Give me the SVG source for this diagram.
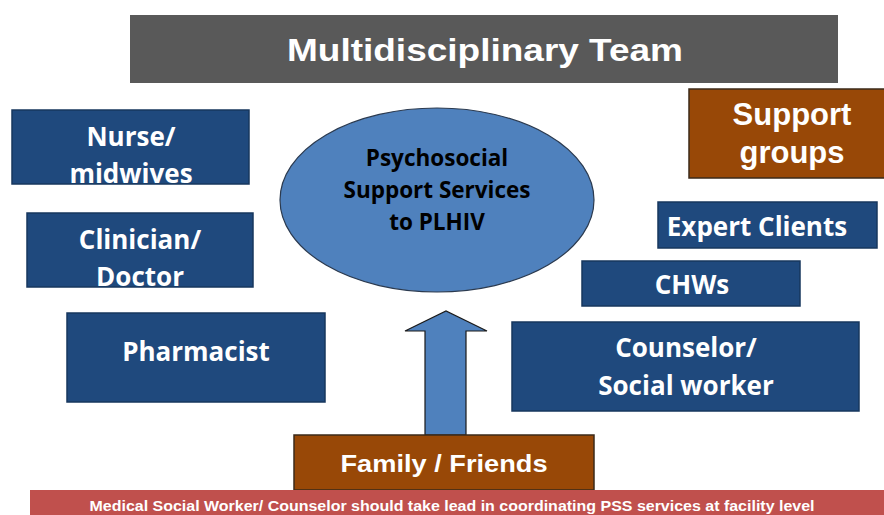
<svg xmlns="http://www.w3.org/2000/svg" width="884" height="515" viewBox="0 0 884 515">
<style>
.box{fill:#1F497D;stroke:#17375E;stroke-width:1.5}
.brown{fill:#984807;stroke:#3b2a1a;stroke-width:1.5}
.cal{font-family:"Open Sans",Lato,"Liberation Sans",sans-serif;font-weight:700;fill:#fff;text-anchor:middle;font-size:26px}
.ari{font-family:"Liberation Sans",Arial,sans-serif;font-weight:700;fill:#fff;text-anchor:middle}
.blk{font-family:"Open Sans",Lato,"Liberation Sans",sans-serif;font-weight:700;fill:#000;text-anchor:middle;font-size:22.5px}
</style>
<rect width="884" height="515" fill="#fff"/>
<g id="title">
<rect x="130" y="15" width="708" height="68" fill="#595959"/>
<text class="ari" x="485" y="61" font-size="32" textLength="396" lengthAdjust="spacingAndGlyphs">Multidisciplinary Team</text>
</g>
<g id="nurse">
<rect class="box" x="12" y="110" width="237" height="74"/>
<text class="cal" x="131" y="146">Nurse/</text>
<text class="cal" x="131" y="183">midwives</text>
</g>
<g id="clinician">
<rect class="box" x="27" y="213" width="226" height="74"/>
<text class="cal" x="140" y="249">Clinician/</text>
<text class="cal" x="140" y="286">Doctor</text>
</g>
<g id="pharmacist">
<rect class="box" x="67" y="313" width="258" height="89"/>
<text class="cal" x="196" y="361">Pharmacist</text>
</g>
<g id="pss">
<ellipse cx="437" cy="200" rx="157" ry="92" fill="#4F81BD" stroke="#2b3a4f" stroke-width="1.2"/>
<text class="blk" x="437" y="166">Psychosocial</text>
<text class="blk" x="437" y="198">Support Services</text>
<text class="blk" x="437" y="230">to PLHIV</text>
</g>
<g id="support-groups">
<rect class="brown" x="689" y="89" width="200" height="89"/>
<text class="ari" x="792" y="125" font-size="31">Support</text>
<text class="ari" x="792" y="163" font-size="31">groups</text>
</g>
<g id="expert-clients">
<rect class="box" x="658" y="202" width="219" height="46"/>
<text class="cal" x="757" y="236">Expert Clients</text>
</g>
<g id="chws">
<rect class="box" x="582" y="261" width="218" height="45"/>
<text class="cal" x="692" y="294">CHWs</text>
</g>
<g id="counselor">
<rect class="box" x="512" y="322" width="347" height="89"/>
<text class="cal" x="686" y="357">Counselor/</text>
<text class="cal" x="686" y="395">Social worker</text>
</g>
<g id="connectors">
<polygon points="425,435 425,331 405,331 446,311 487,331 466,331 466,435" fill="#4F81BD" stroke="#1a1a1a" stroke-width="1.2"/>
</g>
<g id="family">
<rect class="brown" x="294" y="435" width="300" height="55"/>
<text class="ari" x="444" y="472" font-size="24" textLength="207" lengthAdjust="spacingAndGlyphs">Family / Friends</text>
</g>
<g id="banner">
<rect x="30" y="490" width="854" height="25" fill="#C0504D"/>
<text class="ari" x="452" y="511" font-size="14" textLength="725" lengthAdjust="spacingAndGlyphs">Medical Social Worker/ Counselor should take lead in coordinating  PSS services at facility level</text>
</g>
</svg>
